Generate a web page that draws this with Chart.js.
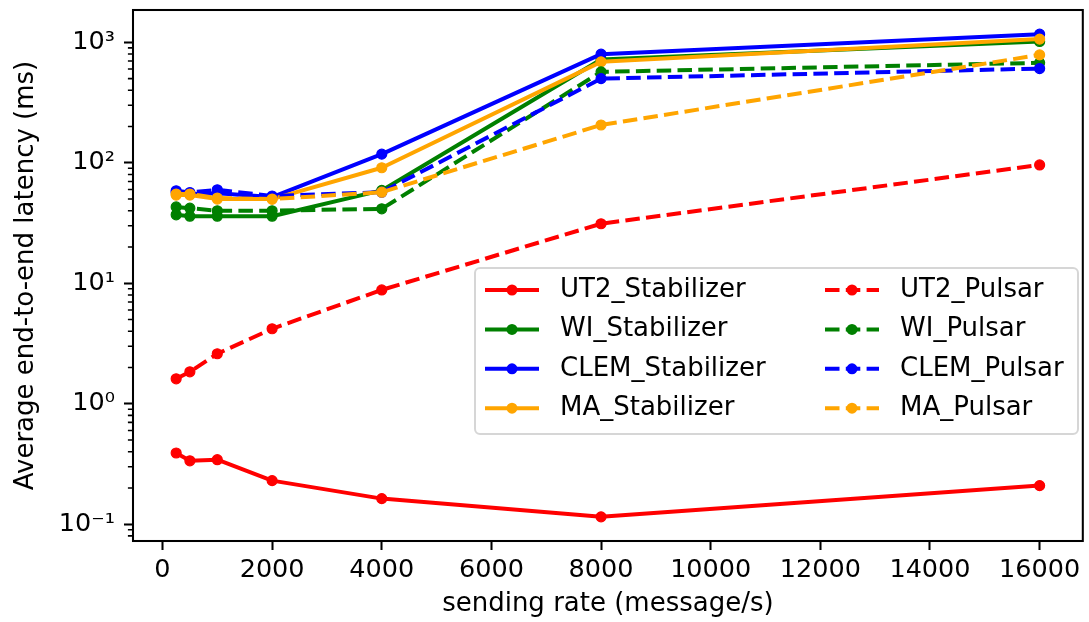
<!DOCTYPE html>
<html>
<head>
<meta charset="utf-8">
<script src="https://cdn.jsdelivr.net/npm/chart.js@4/dist/chart.umd.min.js"></script>
<style>
html,body{margin:0;padding:0;background:#fff;}
#wrap{width:1089px;height:622px;position:relative;}
</style>
</head>
<body>
<div id="wrap"><canvas id="c" width="1089" height="622"></canvas></div>
<script>
// ---- data ----
const rates = [250, 500, 1000, 2000, 4000, 8000, 16000];
const ut2Stabilizer  = [0.39, 0.336, 0.343, 0.23, 0.163, 0.115, 0.209];
const wiStabilizer   = [37, 36, 36, 36, 59, 720, 1016];
const clemStabilizer = [57, 55, 56, 52, 118, 798, 1170];
const maStabilizer   = [54, 54, 50, 50, 91, 689, 1064];
const ut2Pulsar      = [1.61, 1.84, 2.6, 4.19, 8.8, 31.2, 96];
const wiPulsar       = [43, 42, 40, 40, 41.5, 569, 676];
const clemPulsar     = [58.6, 56.7, 59.7, 53, 57, 500, 606];
const maPulsar       = [55, 55, 51, 50, 57, 206, 787];
const seriesNames = ['UT2_Stabilizer','WI_Stabilizer','CLEM_Stabilizer','MA_Stabilizer',
                     'UT2_Pulsar','WI_Pulsar','CLEM_Pulsar','MA_Pulsar'];
const seriesValues = [ut2Stabilizer, wiStabilizer, clemStabilizer, maStabilizer,
                      ut2Pulsar, wiPulsar, clemPulsar, maPulsar];
const seriesColors = ['#ff0000','#008000','#0000ff','#ffa500','#ff0000','#008000','#0000ff','#ffa500'];
const seriesDashed = [false,false,false,false,true,true,true,true];
const xTicks = [0, 2000, 4000, 6000, 8000, 10000, 12000, 14000, 16000];
const yTicks = [0.1, 1, 10, 100, 1000];
const yTickLabels = ['10\u207B\u00B9', '10\u2070', '10\u00B9', '10\u00B2', '10\u00B3'];
const xTitle = 'sending rate (message/s)';
const yTitle = 'Average end-to-end latency (ms)';

// ---- style ----
const FS_TICK = 25.5;
const FS = 26;
const TICK_FONT = {family: "'DejaVu Sans'", size: FS_TICK};
const FONT = {family: "'DejaVu Sans'", size: FS};
const LW = 4;
const DASH = [14.5, 6.3];

const datasets = seriesNames.map((name, i) => ({
  label: name,
  data: rates.map((r, j) => ({x: r, y: seriesValues[i][j]})),
  borderColor: seriesColors[i],
  backgroundColor: seriesColors[i],
  borderWidth: LW,
  borderDash: seriesDashed[i] ? DASH : [],
  borderJoinStyle: 'round',
  pointRadius: 5,
  pointBorderWidth: 1.2,
  pointHoverRadius: 5,
  pointBackgroundColor: seriesColors[i],
  pointBorderColor: seriesColors[i],
  tension: 0,
  fill: false,
  order: -i
}));

const framePlugin = {
  id: 'frame',
  afterDatasetsDraw(chart) {
    const {ctx, chartArea: a} = chart;
    const ys = chart.scales.y;
    ctx.save();
    ctx.strokeStyle = '#000';
    ctx.lineWidth = 1.55;
    ctx.beginPath();
    for (const base of [0.01, 0.1, 1, 10, 100, 1000]) {
      for (let m = 2; m <= 9; m++) {
        const v = base * m;
        if (v < ys.min || v > ys.max) continue;
        const p = ys.getPixelForValue(v);
        ctx.moveTo(a.left - 5.1, p);
        ctx.lineTo(a.left, p);
      }
    }
    ctx.stroke();
    ctx.lineWidth = 2.05;
    ctx.strokeRect(a.left, a.top, a.right - a.left, a.bottom - a.top);
    ctx.restore();
  }
};

const legendPlugin = {
  id: 'boxLegend',
  afterDraw(chart) {
    const ctx = chart.ctx;
    const bx = 475, by = 268, bw = 603, bh = 166, r = 5;
    ctx.save();
    ctx.beginPath();
    ctx.roundRect(bx, by, bw, bh, r);
    ctx.fillStyle = 'rgba(255,255,255,0.8)';
    ctx.fill();
    ctx.lineWidth = 2;
    ctx.strokeStyle = 'rgba(204,204,204,0.8)';
    ctx.stroke();
    const colX = [485, 825];
    const handleLen = 54;
    const textPad = 21;
    const rowY0 = 290, rowDy = 39.4;
    chart.data.datasets.forEach((ds, i) => {
      const col = Math.floor(i / 4), row = i % 4;
      const x0 = colX[col], y = rowY0 + row * rowDy;
      ctx.beginPath();
      ctx.setLineDash(ds.borderDash || []);
      ctx.lineDashOffset = 0;
      ctx.lineWidth = ds.borderWidth;
      ctx.strokeStyle = ds.borderColor;
      ctx.lineCap = 'butt';
      ctx.moveTo(x0, y);
      ctx.lineTo(x0 + handleLen, y);
      ctx.stroke();
      ctx.setLineDash([]);
      ctx.beginPath();
      ctx.arc(x0 + handleLen / 2, y, 5.5, 0, Math.PI * 2);
      ctx.fillStyle = ds.borderColor;
      ctx.fill();
      ctx.fillStyle = '#000';
      ctx.font = FS + "px 'DejaVu Sans'";
      ctx.textBaseline = 'middle';
      ctx.textAlign = 'left';
      ctx.fillText(ds.label, x0 + handleLen + textPad, y);
    });
    ctx.restore();
  }
};

new Chart(document.getElementById('c'), {
  type: 'line',
  data: {datasets},
  plugins: [framePlugin, legendPlugin],
  options: {
    responsive: false,
    animation: false,
    devicePixelRatio: 1,
    events: [],
    layout: {padding: {top: 10, right: 4, left: 0, bottom: 0}},
    plugins: {legend: {display: false}, tooltip: {enabled: false}},
    scales: {
      x: {
        type: 'linear',
        min: -537.5,
        max: 16787.5,
        afterBuildTicks: s => { s.ticks = xTicks.map(v => ({value: v})); },
        afterFit: s => { s.height = 81; s.paddingLeft = 0; s.paddingRight = 0; },
        ticks: {
          font: TICK_FONT, color: '#000', padding: 5, maxRotation: 0, autoSkip: false,
          callback: (v, i) => String(xTicks[i])
        },
        grid: {display: true, drawOnChartArea: false, drawTicks: true, tickLength: 9, tickWidth: 2.05, tickColor: '#000'},
        border: {display: false},
        title: {display: true, text: xTitle, font: FONT, color: '#000', padding: {top: 0, bottom: 2}}
      },
      y: {
        type: 'logarithmic',
        min: 0.0725,
        max: 1856,
        afterBuildTicks: s => { s.ticks = yTicks.map(v => ({value: v})); },
        afterFit: s => { s.width = 133; s.paddingTop = 0; s.paddingBottom = 0; },
        ticks: {
          font: TICK_FONT, color: '#000', padding: 9, autoSkip: false,
          callback: (v, i) => yTickLabels[i]
        },
        grid: {display: true, drawOnChartArea: false, drawTicks: true, tickLength: 9, tickWidth: 2.05, tickColor: '#000'},
        border: {display: false},
        title: {display: true, text: yTitle, font: FONT, color: '#000', padding: {top: 11, bottom: 0}}
      }
    }
  }
});
</script>
</body>
</html>
